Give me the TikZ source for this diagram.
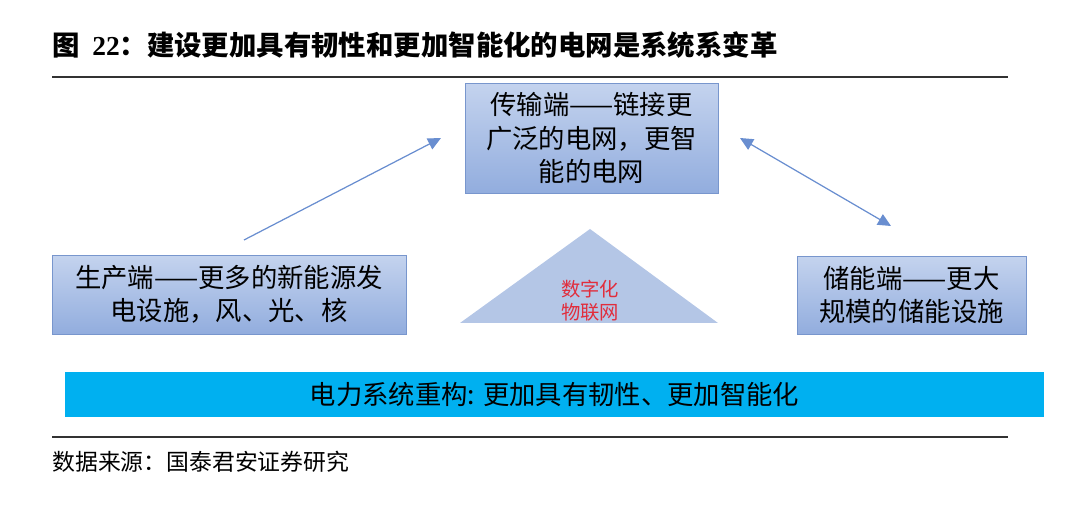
\documentclass[tikz,border=0pt]{standalone}
\usepackage{fontspec}
\newfontfamily\cjk{Noto Sans CJK SC}
\newfontfamily\numfont{Liberation Serif}
\usetikzlibrary{arrows.meta}
\definecolor{boxline}{RGB}{120,150,205}
\definecolor{boxtop}{RGB}{196,211,238}
\definecolor{boxbot}{RGB}{146,173,222}
\definecolor{trifill}{RGB}{180,198,230}
\definecolor{barblue}{RGB}{0,176,240}
\definecolor{arrblue}{RGB}{68,114,196}
\definecolor{iotred}{RGB}{225,45,60}
\definecolor{rulegray}{RGB}{50,50,50}
\begin{document}
\begin{tikzpicture}[x=0.02cm,y=-0.02cm]
	\tikzset{>={Triangle[length=2.6mm,width=2.4mm]}}
	\tikzset{endbox/.style={draw=boxline,top color=boxtop,bottom color=boxbot,align=center,
			font=\cjk\fontsize{15}{19}\selectfont,inner sep=0pt}}
	\tikzset{link/.style={arrblue!80,line width=0.7pt}}
	\useasboundingbox (0,0) rectangle (1080,506);
	
	% title and rules
	\node[anchor=west,inner sep=0pt] (title) at (52,45) {\cjk\bfseries\fontsize{15.6}{18}\selectfont 图\ \ {\numfont\bfseries 22}：建设更加具有韧性和更加智能化的电网是系统系变革};
	\draw[rulegray,line width=1pt] (52,77) -- (1008,77);
	\draw[rulegray,line width=1pt] (52,437) -- (1008,437);
	\node[anchor=west,inner sep=0pt] (src) at (52,462) {\cjk\fontsize{13}{16}\selectfont 数据来源：国泰君安证券研究};
	
	% three ends
	\node[endbox,minimum width=5.06cm,minimum height=2.2cm] (trans) at (591.5,138) {传输端——链接更\\广泛的电网，更智\\能的电网};
	\node[endbox,minimum width=7.08cm,minimum height=1.58cm] (prod) at (229,294.5) {生产端——更多的新能源发\\电设施，风、光、核};
	\node[endbox,minimum width=4.58cm,minimum height=1.56cm] (store) at (911.5,295) {储能端——更大\\规模的储能设施};
	
	% triangle
	\coordinate (T1) at (590,229);
	\coordinate (T2) at (460,323);
	\coordinate (T3) at (718,323);
	\fill[trifill] (T1) -- (T2) -- (T3) -- cycle;
	\node[iotred,align=center,font=\cjk\fontsize{11}{13}\selectfont,inner sep=0pt] (iot) at (590,301) {数字化\\物联网};
	
	% bottom bar
	\node[fill=barblue,minimum width=19.58cm,minimum height=0.9cm,inner sep=0pt,
	font=\cjk\fontsize{15}{17}\selectfont] (grid) at (554.5,394.5) {电力系统重构: 更加具有韧性、更加智能化};
	
	% arrows
	\coordinate (a1) at (244,240);
	\coordinate (a2) at (441,138);
	\coordinate (b1) at (740,138);
	\coordinate (b2) at (891,226);
	\draw[link,->] (a1) -- (a2);
	\draw[link,<->] (b1) -- (b2);
	
\end{tikzpicture}
\end{document}
